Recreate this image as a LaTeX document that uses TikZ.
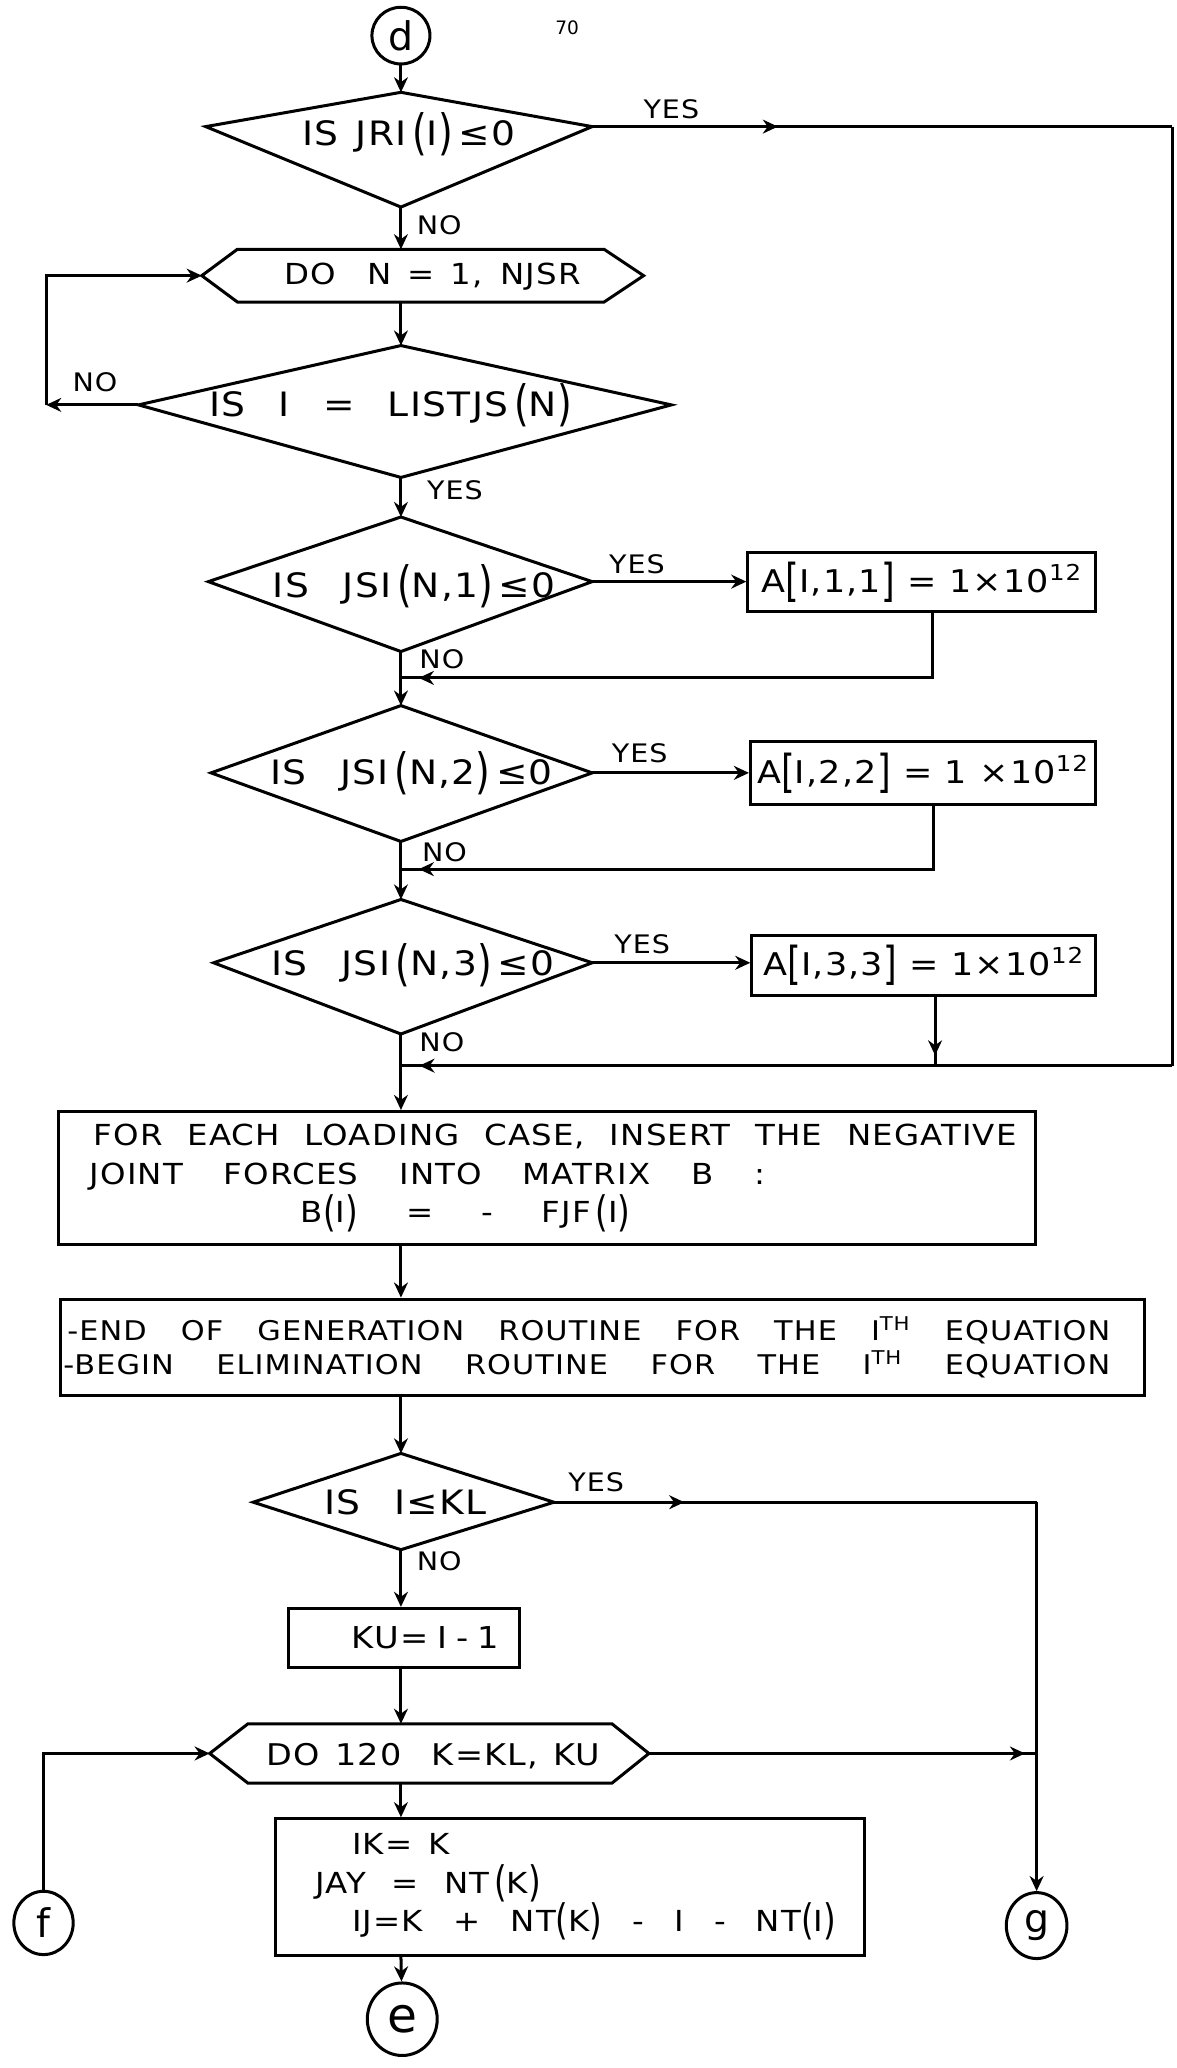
\documentclass[tikz,border=0pt]{standalone}
\usepackage{fontspec}
\setmainfont{DejaVu Sans}[FakeStretch=1.12,LetterSpace=4]
\newfontfamily\plainfont{DejaVu Sans}
\usetikzlibrary{arrows.meta,shapes.geometric,decorations.markings}

% spread the words of one line over a given width
\newcommand\spread[2]{\makebox[#1][s]{\spaceskip=.3em plus 1fil\relax #2}}
% tall brackets of the lettering
\newcommand\tall[1]{\raisebox{-.12em}{\scalebox{1}[1.45]{#1}}}

\tikzset{
  flow/.style={line width=1.3pt},
  arr/.style={-{Stealth[length=6.5pt,width=6pt]}},
  midtip/.style={postaction={decorate},
    decoration={markings,mark=at position #1 with {\arrow{Stealth[length=6.5pt,width=6pt]}}}},
  box/.style={draw,line width=1.3pt,inner sep=0pt},
  conn/.style={draw,ellipse,line width=1.3pt,inner sep=0pt,font=\plainfont\fontsize{17}{17}\selectfont},
  qtext/.style={inner sep=0pt,anchor=base,font=\fontsize{14.5}{14.5}\selectfont},
  yn/.style={inner sep=0pt,font=\fontsize{11}{11}\selectfont},
}

\begin{document}
\begin{tikzpicture}[x=0.02cm,y=-0.02cm]
\useasboundingbox (0,0) rectangle (892,1568);

% --- Entry connector ---
\node[conn, minimum width=0.88cm, minimum height=0.86cm] (d) at (304,27) {d};
\node[font=\plainfont\fontsize{8}{8}\selectfont] (pg) at (430,21) {70};

% --- IS JRI(I) <= 0 ---
\draw[flow] (304,70) coordinate (q1n) -- (449,96) coordinate (q1e)
  -- (304,157) coordinate (q1s) -- (156,96) coordinate (q1w) -- cycle;
\node[qtext] (q1) at (310,110) {IS\enskip JRI\,\tall{(}I\tall{)}\,≤0};
\node[yn] (yes1) at (509,83) {YES};
\node[yn] (no1) at (333,171) {NO};

% --- DO N = 1, NJSR ---
\draw[flow] (153,209) coordinate (h1w) -- (180,189) -- (458,189) -- (488,209)
  -- (458,229) -- (180,229) -- cycle;
\coordinate (h1t) at (304,189);
\coordinate (h1b) at (304,229);
\node[qtext, font=\fontsize{12.5}{12.5}\selectfont] (h1) at (328,216) {\spread{4.5cm}{DO \ N = 1, NJSR}};

% --- IS I = LISTJS(N) ---
\draw[flow] (304,262) coordinate (q2n) -- (509,307) coordinate (q2e)
  -- (304,362) coordinate (q2s) -- (105,307) coordinate (q2w) -- cycle;
\node[qtext] (q2) at (296,316) {\spread{5.5cm}{IS I = LISTJS\,\tall{(}N\tall{)}}};
\node[yn] (no2) at (72,290) {NO};
\node[yn] (yes2) at (345,372) {YES};
\coordinate (c1) at (35,307);

% --- IS JSI(N,1) <= 0 ---
\draw[flow] (304,392) coordinate (q3n) -- (449,441) coordinate (q3e)
  -- (304,494) coordinate (q3s) -- (158,441) coordinate (q3w) -- cycle;
\node[qtext] (q3) at (314,453) {IS\quad JSI\,\tall{(}N,1\tall{)}\,≤0};
\node[yn] (yes3) at (483,428) {YES};
\node[yn] (no3) at (335,500) {NO};
\node[box, minimum width=5.28cm, minimum height=0.9cm, font=\fontsize{13.5}{13.5}\selectfont]
  (b1) at (699,441.5) {A\tall{[}I,1,1\tall{]} = 1×10\textsuperscript{12}};
\coordinate (k1) at (707,514);

% --- IS JSI(N,2) <= 0 ---
\draw[flow] (304,535) coordinate (q4n) -- (449,586) coordinate (q4e)
  -- (304,638) coordinate (q4s) -- (160,586) coordinate (q4w) -- cycle;
\node[qtext] (q4) at (312,595) {IS\quad JSI\,\tall{(}N,2\tall{)}\,≤0};
\node[yn] (yes4) at (485,571) {YES};
\node[yn] (no4) at (337,646) {NO};
\node[box, minimum width=5.24cm, minimum height=0.96cm, font=\fontsize{13.5}{13.5}\selectfont]
  (b2) at (700,586) {A\tall{[}I,2,2\tall{]} = 1 ×10\textsuperscript{12}};
\coordinate (k2) at (708,659);

% --- IS JSI(N,3) <= 0 ---
\draw[flow] (304,682) coordinate (q5n) -- (449,730) coordinate (q5e)
  -- (304,784) coordinate (q5s) -- (162,730) coordinate (q5w) -- cycle;
\node[qtext] (q5) at (313,740) {IS\quad JSI\,\tall{(}N,3\tall{)}\,≤0};
\node[yn] (yes5) at (487,716) {YES};
\node[yn] (no5) at (335,790) {NO};
\node[box, minimum width=5.22cm, minimum height=0.92cm, font=\fontsize{13.5}{13.5}\selectfont]
  (b3) at (700.5,732) {A\tall{[}I,3,3\tall{]} = 1×10\textsuperscript{12}};
\coordinate (k3) at (709,808);
\coordinate (r2) at (889,808);

% --- Load vector ---
\node[box, minimum width=14.82cm, minimum height=2.01cm, text width=14.82cm, align=left,
  font=\fontsize{12.5}{16.8}\selectfont] (b4) at (414.5,893)
  {\hspace*{0.54cm}\spread{14cm}{FOR EACH LOADING CASE, INSERT THE NEGATIVE}\\
   \hspace*{0.48cm}\spread{10.24cm}{JOINT FORCES INTO MATRIX B :}\\
   \hspace*{3.68cm}\spread{5cm}{B\tall{(}I\tall{)} = - FJF\,\tall{(}I\tall{)}}};

% --- End / begin ---
\node[box, minimum width=16.45cm, minimum height=1.46cm, text width=16.45cm, align=left,
  font=\fontsize{11.7}{14.5}\selectfont] (b5) at (456.75,1021.5)
  {\hspace*{0.11cm}\spread{15.82cm}{-END OF GENERATION ROUTINE FOR THE I\textsuperscript{TH} EQUATION}\\
   \hspace*{0.05cm}\spread{15.88cm}{-BEGIN ELIMINATION ROUTINE FOR THE I\textsuperscript{TH} EQUATION}};

% --- IS I <= KL ---
\draw[flow] (304,1102) coordinate (q6n) -- (420,1139) coordinate (q6e)
  -- (304,1175) coordinate (q6s) -- (192,1139) coordinate (q6w) -- cycle;
\node[qtext] (q6) at (307.5,1148) {IS\quad I≤KL};
\node[yn] (yes6) at (452,1124) {YES};
\node[yn] (no6) at (333,1184) {NO};
\coordinate (r3) at (786,1139);

\node[box, minimum width=3.5cm, minimum height=0.9cm, font=\fontsize{13}{13}\selectfont]
  (b6) at (306.5,1242) {\hspace*{0.58cm}\spread{2.17cm}{KU= I - 1}};

% --- DO 120 K = KL, KU ---
\draw[flow] (159,1329.5) coordinate (h2w) -- (188,1307) -- (464,1307) -- (492,1329.5) coordinate (h2e)
  -- (464,1352) -- (188,1352) -- cycle;
\coordinate (h2t) at (304,1307);
\coordinate (h2b) at (304,1352);
\node[qtext, font=\fontsize{12.9}{12.9}\selectfont] (h2) at (328.5,1338.5) {\spread{5.06cm}{DO 120 \ K=KL, KU}};

\node[box, minimum width=8.93cm, minimum height=2.07cm, text width=8.93cm, align=left,
  font=\fontsize{12.5}{16.5}\selectfont] (b7) at (432.25,1430.75)
  {\hspace*{1.16cm}\spread{1.48cm}{IK= K}\\
   \hspace*{0.6cm}\spread{3.42cm}{JAY = NT\,\tall{(}K\tall{)}}\\
   \hspace*{1.16cm}\spread{7.34cm}{IJ=K + NT\tall{(}K\tall{)} - I - NT\tall{(}I\tall{)}}};

% --- Off-page connectors ---
\node[conn, minimum width=0.9cm, minimum height=0.96cm] (f) at (33,1458) {f};
\node[conn, minimum width=0.92cm, minimum height=1.0cm] (g) at (786,1460) {g};
\node[conn, minimum width=1.06cm, minimum height=1.1cm, font=\plainfont\fontsize{21}{21}\selectfont] (e) at (305,1531) {e};

% --- Connectors ---
\draw[flow,arr] (d) -- (q1n);
\draw[flow,midtip=0.32] (q1e) -- (q1e -| r2);
\draw[flow] (q1e -| r2) -- (r2);
\draw[flow,arr] (q1s) -- (h1t);
\draw[flow,arr] (h1b) -- (q2n);
\draw[flow,arr] (q2w) -- (c1);
\draw[flow,arr] (c1) |- (h1w);
\draw[flow,arr] (q2s) -- (q3n);

\draw[flow,arr] (q3e) -- (q3e -| b1.west);
\draw[flow,midtip=0.97] (b1.south -| k1) -- (k1) -- (k1 -| q3s);
\draw[flow,arr] (q3s) -- (q4n);
\draw[flow,arr] (q4e) -- (q4e -| b2.west);
\draw[flow,midtip=0.97] (b2.south -| k2) -- (k2) -- (k2 -| q4s);
\draw[flow,arr] (q4s) -- (q5n);
\draw[flow,arr] (q5e) -- (q5e -| b3.west);
\draw[flow,midtip=0.85] (b3.south -| k3) -- (k3);
\draw[flow,midtip=0.976] (r2) -- (r2 -| q5s);

\draw[flow,arr] (q5s) -- (q5s |- b4.north);
\draw[flow,arr] (q5s |- b4.south) -- (q5s |- b5.north);
\draw[flow,arr] (q5s |- b5.south) -- (q6n);
\draw[flow,midtip=0.27] (q6e) -- (r3);
\draw[flow,arr] (r3) -- (g);
\draw[flow,arr] (q6s) -- (q6s |- b6.north);
\draw[flow,arr] (q6s |- b6.south) -- (h2t);
\draw[flow,midtip=0.97] (h2e) -- (h2e -| r3);
\draw[flow,arr] (f) |- (h2w);
\draw[flow,arr] (h2b) -- (h2b |- b7.north);
\draw[flow,arr] (h2b |- b7.south) -- (e);

\end{tikzpicture}
\end{document}
